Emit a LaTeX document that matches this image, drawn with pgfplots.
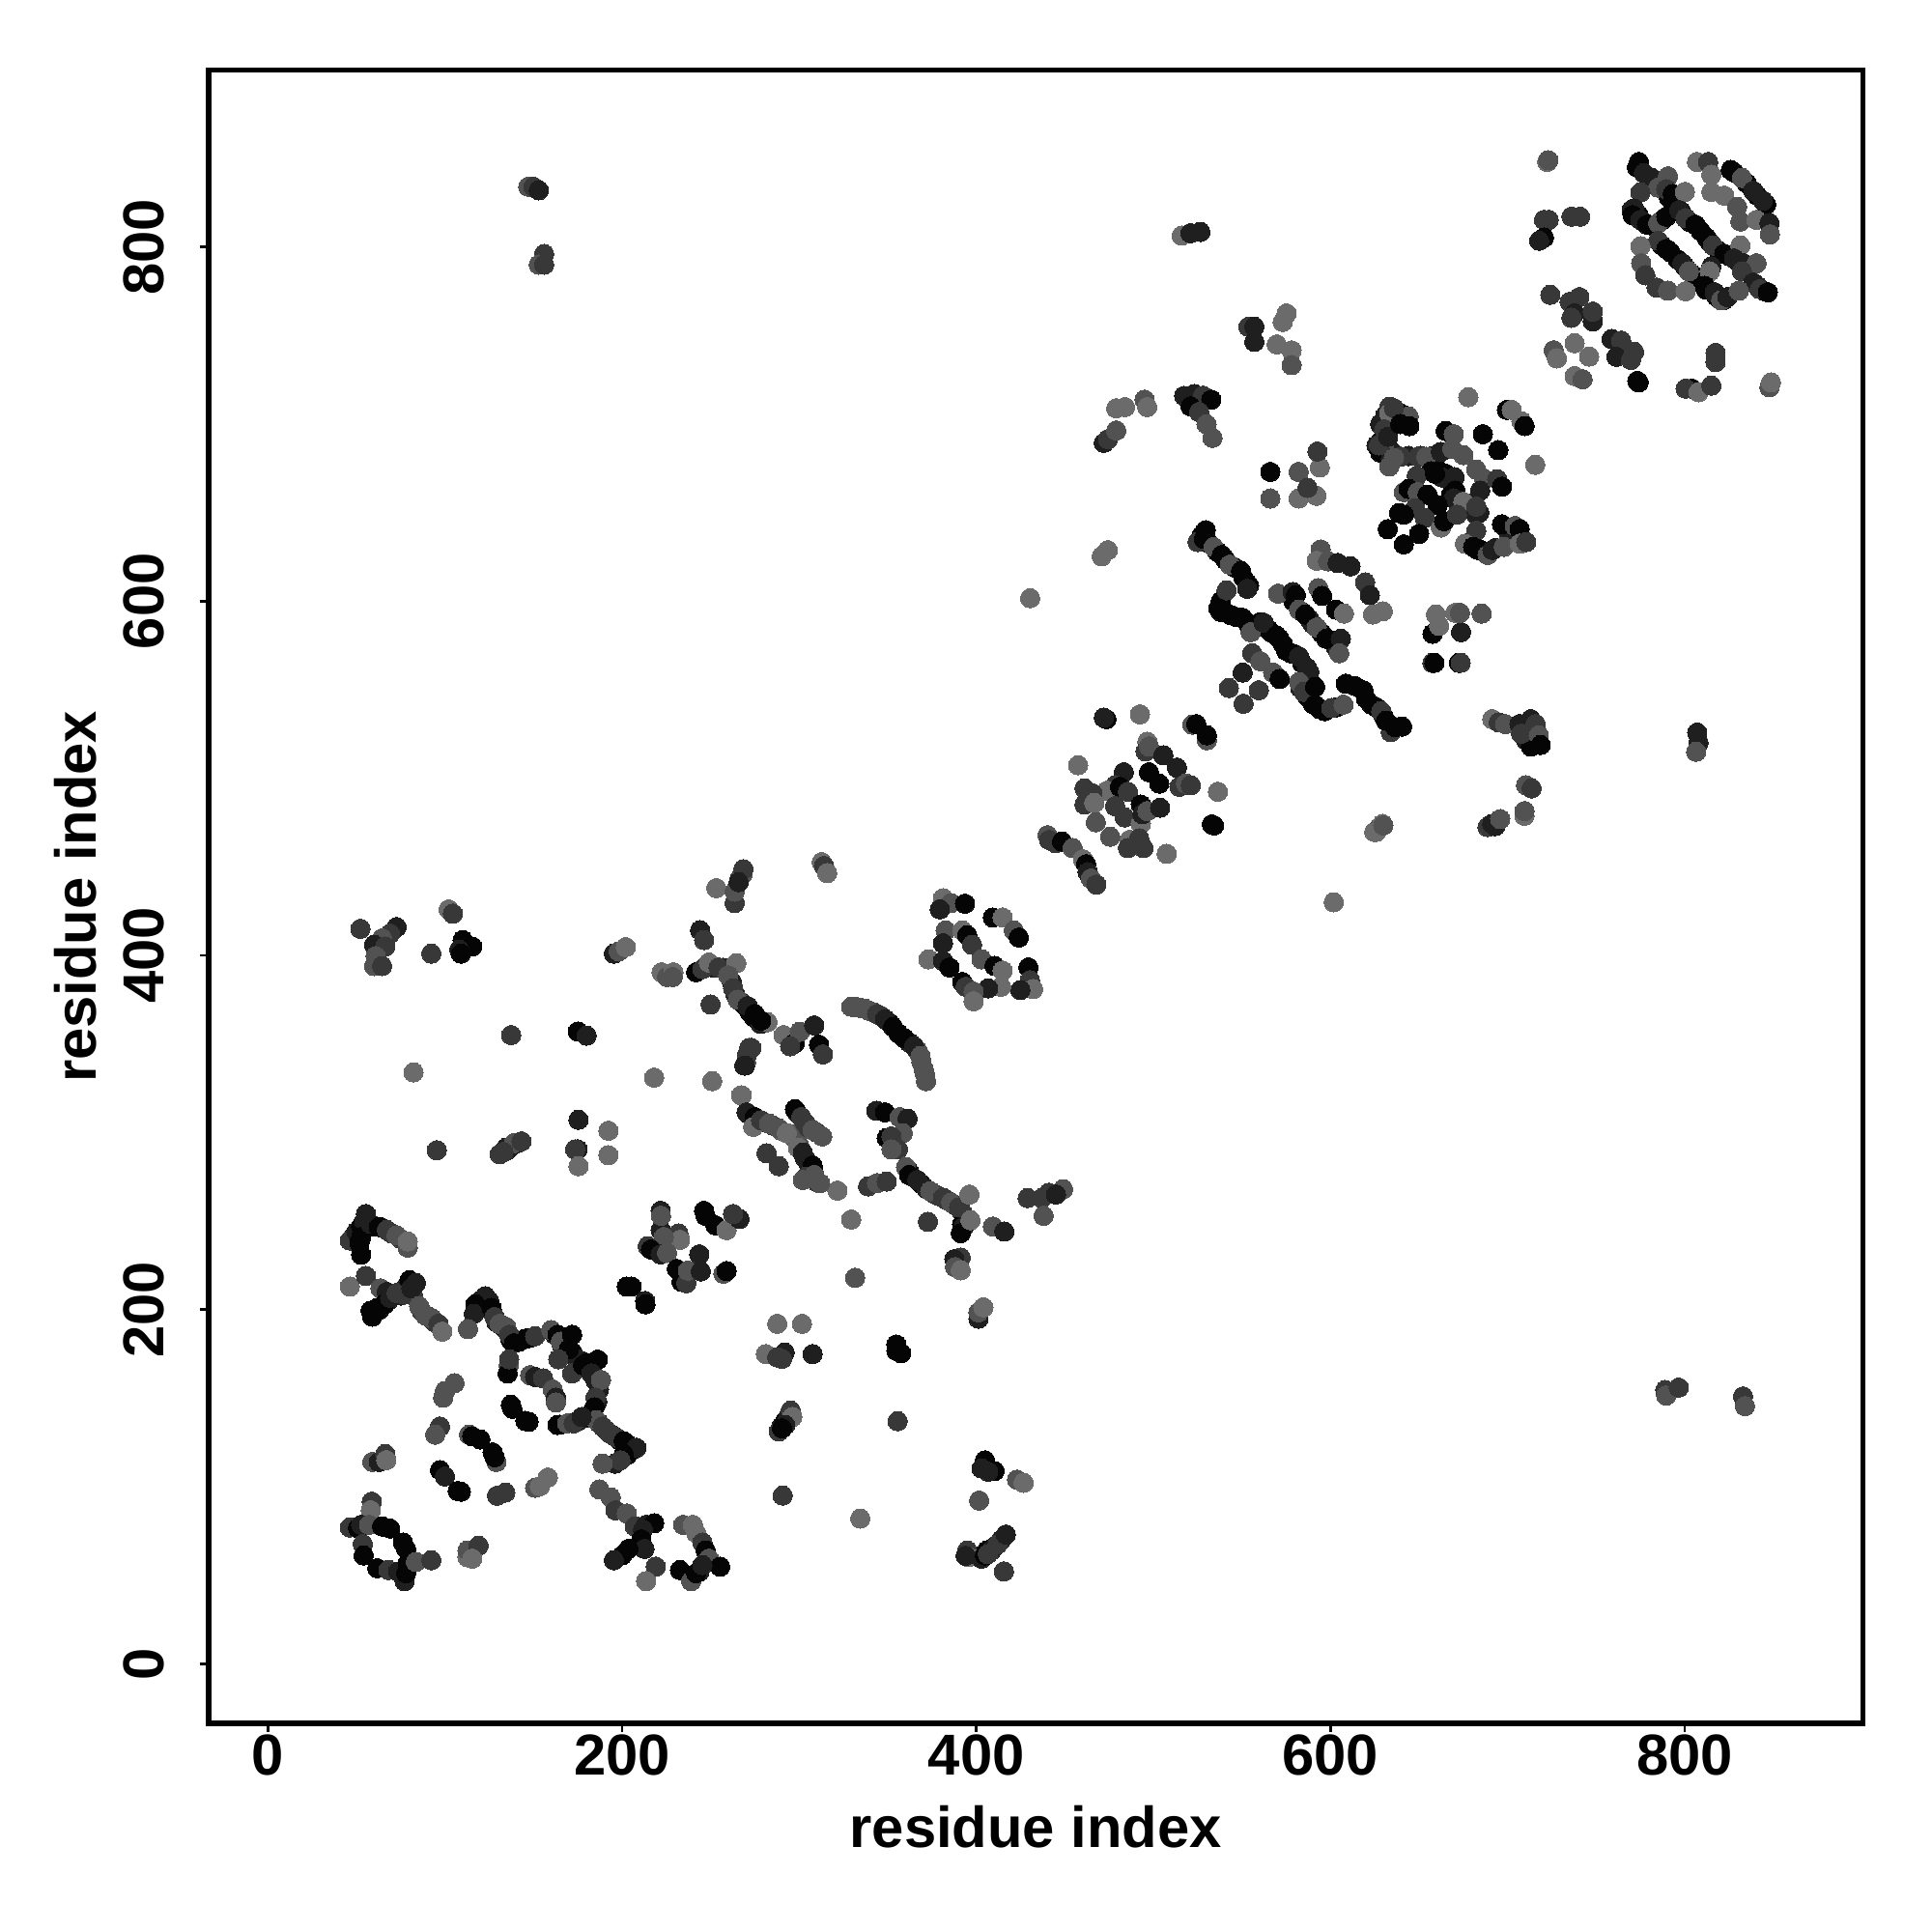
\documentclass[border=0pt]{standalone}
\usepackage{pgfplots}
\pgfplotsset{compat=1.18}
\usepackage{fontspec}
\setmainfont{Liberation Sans}
\begin{document}
\begin{tikzpicture}
\path[use as bounding box] (0,0) rectangle (20cm,20cm);
\begin{axis}[
  at={(2.16cm,2.16cm)}, anchor=south west,
  scale only axis, width=17.123cm, height=17.113cm,
  xmin=-33.4, xmax=900.5, ymin=-33.6, ymax=899.8,
  xtick={0,200,400,600,800}, ytick={0,200,400,600,800},
  xtick pos=bottom, ytick pos=left, tick align=outside,
  major tick length=0.09cm,
  tick style={line width=0.028cm, black},
  axis line style={line width=0.055cm, black},
  /pgf/number format/assume math mode=true,
  tick label style={font=\fontsize{17pt}{17pt}\selectfont\bfseries, inner sep=0pt},
  xticklabel style={anchor=north, yshift=-0.02cm},
  yticklabel style={rotate=90, anchor=south},
  yticklabel shift=0.36cm,
  label style={font=\fontsize{17pt}{17pt}\selectfont\bfseries},
  xlabel={residue index}, ylabel={residue index},
  xlabel style={at={(axis description cs:0.5,-0.0625)}, anchor=center},
  ylabel style={at={(axis description cs:-0.0805,0.5)}, anchor=center},
  colormap={greys}{gray(0cm)=(0.02); gray(4cm)=(0.42)},
  point meta min=0, point meta max=4,
]
\addplot[scatter, only marks, mark=*, mark size=2.85pt, point meta=explicit,
  mark options={line width=0pt},
  scatter/use mapped color={draw=mapped color, fill=mapped color}] coordinates {
(48,241)[1] (53,244)[1] (57,247)[1] (60,247)[0] (65,246)[1] (70,243)[2] (75,240)[2]
(60,198)[0] (63,200)[0] (66,203)[1] (68,205)[1] (71,208)[1] (75,208)[1] (78,213)[1] (82,214)[1] (78,210)[1] (82,208)[2] (87,199)[2] (91,196)[2] (94,193)[2]
(118,200)[0] (120,205)[1] (125,205)[1] (127,198)[1] (129,193)[1] (132,191)[1] (135,188)[1] (137,183)[0] (142,182)[0] (145,183.5)[0] (148,184)[1]
(160,188)[1] (162,186)[1] (166,180)[1] (168,178)[0] (172,176)[0] (175,172)[1] (180,170)[0] (183,167)[1] (185,160)[1] (187,155)[1] (186,148)[1] (183,142)[0] (182,140)[0] (187,136)[1] (191,132)[1] (195,129)[1] (199,126)[0] (203,124)[0] (206,121)[0] (203,118)[0] (200,116)[1] (196,113)[1]
(165,135)[1] (170,136)[1] (175,137)[1] (179,139)[1]
(252,393)[1] (257,393)[1] (262,385)[1] (264,378)[1] (267,374)[1] (269,372)[0] (272,368)[0] (276,364)[0] (280,362)[1]
(331,371)[3] (337,370)[3] (342,368)[3] (346,366)[2] (351,362)[0] (356,356)[0] (362,351)[1] (367,346)[3] (369,340)[3] (371,333)[3]
(362,278)[0] (364,275)[1] (369,271)[0] (372,268)[1] (377,265)[2] (379,264)[2] (383,262)[2] (388,259)[2] (392,255)[2] (393,251)[1] (392,248)[0]
(272,310)[0] (276,308)[0] (280,306)[1] (285,304)[2] (290,301)[3] (295,299)[3] (298,296)[3] (300,293)[3] (303,286)[1] (305,283)[1] (308,279)[0] (309,274)[1] (310,272)[2]
(299,311)[1] (303,306)[2] (305,303)[2] (310,300)[2]
(527,637)[0] (531,633)[0] (536,628)[0] (541,623)[0] (546,619)[0] (551,613)[0] (553,610)[0]
(538,600)[0] (538,594)[0] (544,592)[0] (547,591)[0] (553,588)[0] (557,585)[1] (560,588)[0] (565,584)[0] (567,582)[0] (573,576)[0] (575,572)[0] (580,570)[0] (584,565)[0] (588,560)[1] (583,551)[1] (587,546)[0] (590,542)[0] (594,539)[0] (603,540)[0] (614,552)[0] (620,545)[0] (626,540)[0] (630,535)[0] (634,530)[0]
(579,600)[0] (584,594)[1] (588,590)[1] (590,587)[1] (595,582)[0] (600,578)[0] (603,574)[1]
(773,845)[0] (779,840)[0] (783,836)[0] (787,833)[0] (791,828)[0] (794,825)[0] (798,820)[0] (774,818)[0] (777,814)[0] (782,812)[0] (787,815)[0] (803,814)[0] (809,809)[0] (814,803)[0] (819,798)[0] (825,795)[0] (830,792)[0] (836,788)[1] (841,778)[1] (845,775)[0] (787,801)[0] (792,797)[0] (796,793)[0] (800,789)[0] (805,784)[0] (808,780)[0] (812,776)[0] (818,772)[0] (822,770)[1]
(828,842)[0] (835,836)[0] (841,829)[0] (846,824)[0] (770,821)[1] (773,819)[0]
(628,690)[1] (630,693)[0] (632,689)[0] (635,684)[1] (628,700)[1] (631,705)[1] (636,707)[1] (642,702)[0] (644,682)[1] (651,682)[1] (658,682)[1] (660,675)[0] (665,672)[0] (670,670)[1] (668,660)[0] (672,655)[0] (678,655)[1] (684,650)[1] (678,633)[0] (683,629)[0] (687,628)[1] (693,630)[1] (700,640)[1] (703,635)[1]
(402,61)[0] (406,64)[0] (410,66)[0] (414,70)[1] (290,134)[1] (292,137)[0] (294,140)[1] (135,290)[1] (137,292)[1] (141,294)[1]
(55.4,254)[1] (52.7,231)[0] (46.3,239)[2] (50,244)[1] (52.7,247)[0] (54.5,250)[1] (52.7,241)[0] (51.8,237.6)[0] (58,248.5)[1] (62.7,246.7)[0] (67.2,245)[2] (72.7,242)[3] (79,235)[3] (79,238.5)[4]
(46.3,213)[4] (55.4,219)[2] (63.6,212)[3] (67.2,210)[1] (59,196)[0] (58,199.4)[0] (61.8,201)[0] (65.4,203)[0] (69,206.7)[1] (72.7,209.4)[2] (77,208.5)[2] (80,216.7)[0] (83.6,215)[1] (81,212)[1] (85.4,202)[3] (89,196.7)[3] (92.7,195)[3] (96.3,192)[2] (98.5,187.6)[4]
(122.7,207.6)[1] (117.2,203)[0] (116.3,197.6)[1] (113,189)[3] (126.3,201)[0] (128,195.8)[2] (130.9,192)[3] (134.5,190.3)[3] (136.3,185.8)[2] (139,181)[0] (147.2,184)[0] (150.9,185)[2] (160,188.5)[3] (163.6,185.8)[0] (165.4,182)[3] (170,177.6)[0] (171.8,185.8)[0] (164,172)[2] (171.8,164)[2] (178,168.5)[0] (186.3,171.8)[0] (182.7,164)[1] (188.1,160.3)[3] (185,150.3)[2] (184.5,144.9)[0] (180.9,139.4)[0] (185.4,137.6)[3] (189,134)[2] (192.7,130.3)[2] (197.2,127.6)[2] (200.9,125.8)[0] (204.5,122)[0] (208.1,122)[1] (200.9,118.5)[0] (199,114.9)[2] (189,113)[3] (163.6,134.9)[0] (169,135.8)[3] (172.7,135.8)[2] (177.2,139.4)[1]
(136,168.5)[3] (135.4,164)[0] (136.3,172)[2] (148.1,163)[3] (150.9,162)[1] (155.4,161.2)[2] (160.9,154.9)[3] (162.7,150.3)[1] (162.7,147.6)[3]
(137.2,146.3)[0] (138.1,144)[0] (145.4,137.2)[0] (147.2,136.7)[0]
(105.4,158.5)[3] (100,154)[3] (99,150.3)[3] (97.2,134)[2] (94.5,129.4)[3]
(113.6,129.4)[3] (115.4,128.5)[0] (120,126.7)[0] (126.9,119.4)[0] (129,114)[3] (128.1,116.7)[0]
(97.2,109.4)[0] (100,105.8)[1] (107.2,97.6)[0] (109,97.2)[0]
(129.4,94.9)[2] (134.1,96.7)[2] (150.9,99.4)[3] (153.6,100.3)[4] (158.1,105.2)[4]
(59,114)[3] (62.7,114)[1] (66.3,118.5)[2] (66.9,115)[4]
(58.7,91.6)[2] (58.1,86.7)[4] (46.3,77)[2] (50.9,76.7)[0] (52.7,78.5)[1] (57.2,78.5)[3] (64.5,77.6)[0] (69,76.4)[0] (53.6,67.6)[2] (54.1,61.2)[0] (76.3,68.5)[0] (78.1,64.9)[0] (61.8,54)[0] (68.1,53)[2] (73.6,52.1)[1] (77.2,46.7)[1] (78.1,51.2)[0] (79,56.7)[0] (83.6,57.6)[3] (92.3,58.5)[2]
(112.7,60.3)[4] (112.7,64)[3] (119,66.7)[2] (115.4,59.4)[4]
(187.2,98.5)[3] (193.6,94)[3] (196.3,86.7)[2] (202.7,84.9)[3] (207.2,77.6)[2] (213.6,78.5)[1] (218.1,79.4)[0] (211.8,75.8)[1] (210.9,70.3)[0] (212.7,64.9)[1] (203.6,64.9)[0] (200,61.2)[0] (195.4,58.5)[1] (219,54.9)[2] (213.6,46.7)[4]
(234.5,78.5)[3] (240,78.5)[4] (241.8,74)[4] (245.4,68.5)[2] (247.2,64)[0] (249,59.4)[3] (255.4,54.9)[0] (243.6,52)[1] (232.7,53)[0] (239,46.7)[3] (241.8,51.2)[0] (245.4,55.8)[1]
(221.8,244.9)[1] (231.8,243)[2] (232.7,239.4)[4] (223.6,241)[3] (214.5,235.8)[2] (216.3,234)[0] (221.8,231.2)[1] (225.4,232)[3] (230.9,223)[0] (233.6,215.8)[0] (236.3,214.9)[2] (237.2,222)[3] (243.6,231.2)[1] (244.5,221.6)[1] (257.2,220.3)[3] (259,221.8)[0]
(205.4,213)[0] (202.7,213)[0] (213,204.9)[1] (213.2,203)[0]
(221.8,255.8)[1] (222,253)[3] (247.2,253)[0] (252.7,247.6)[0] (259,244.9)[4] (266.3,251.2)[1] (262.7,254)[2] (246.3,255.8)[0]
(52.3,415)[2] (72.7,416)[1] (69,412.3)[2] (64.5,409.6)[3] (60,406)[1] (66.3,405)[2] (60.9,399.6)[3] (60,394)[3] (64.5,394)[2]
(102.1,426)[4] (104.5,423.6)[2] (92.3,401)[2] (110,408.7)[0] (111.8,406)[0] (115.4,405)[0] (108.1,403.2)[1] (109,401)[0]
(195.4,401)[1] (198.1,402.3)[3] (202.1,404.7)[4]
(222.3,390.5)[4] (225.4,387.8)[3] (229,390.5)[4] (228.6,387.8)[3]
(244.1,414.2)[1] (246.3,408.7)[2] (241.8,390.5)[0] (245.4,392.3)[2] (249,396)[4] (254.5,393.2)[2] (264.5,395.6)[4] (260,388.7)[3] (262.7,381.4)[2] (265.4,375)[3] (270.9,371.4)[1] (274.5,365)[0] (278.1,361.4)[1] (250,372.3)[2]
(253.2,438)[4] (263.6,429.6)[2] (263.6,436)[3] (266.3,443.2)[2] (268.1,446)[3] (268.5,448.7)[2] (265.8,441.4)[1]
(137.4,355)[2] (175,357)[0] (180,354.7)[1] (82.3,334)[4] (218.1,331)[4] (250.9,329)[4] (267.2,321)[4]
(271.8,347.8)[2] (270,339.6)[3] (269,337.8)[1] (270.6,344)[2]
(95.4,290)[2] (130.9,287.8)[2] (134.5,291.4)[1] (139,294)[3] (143.2,295)[2] (133,289)[2]
(175.4,307.2)[1] (192.3,301)[4] (174.9,290.5)[1] (173.5,290.5)[2] (192.3,287.2)[4] (175.4,281)[4]
(312.7,452.7)[4] (314,450.5)[2] (315.8,446.5)[4]
(282.1,362.3)[4] (278.5,363.2)[0] (274.9,366.9)[0]
(273,347.8)[2] (269.4,337.8)[1]
(291.2,355)[4] (297.6,350.5)[0] (300.3,356.9)[3] (308.5,360.5)[1] (311.2,349.6)[0] (313.4,344.1)[2] (294.9,348.7)[2]
(329.4,371)[3] (334,370.5)[3] (339.4,368.7)[3] (344,366.9)[2] (348.5,364)[1] (353,359.6)[0] (359.4,353.2)[0] (364.9,348.7)[1] (368.5,343.2)[3] (370.3,336)[3] (371.6,329)[3]
(343.6,312.3)[1] (348.5,311.4)[0] (356.7,308.7)[3] (361.2,307.8)[1] (358.5,299.6)[3] (349.4,296.9)[0] (352.1,297.8)[2] (355.8,290.5)[2] (352.1,290.5)[3]
(360.3,280.5)[3] (362.1,276)[0] (366.7,273.2)[1] (374,266.9)[3] (381.2,263.2)[2] (385.8,260.5)[3] (390.3,257.8)[2] (396.1,265)[4] (393,246.9)[1] (391.2,243.2)[0] (396.7,250.5)[4] (409.4,246.9)[3] (415.8,244.1)[1]
(338.9,269.6)[2] (344,271.4)[3] (349.4,272.3)[2] (329.4,250.9)[4] (372.7,249.6)[2] (321.6,267.2)[4]
(267.6,321)[4] (270.3,311.4)[1] (274.9,308.7)[0] (274,303.2)[4] (278.5,306.9)[2] (283,305)[3] (288.5,302.3)[3] (293,299.6)[4] (297.6,313.2)[0] (301.2,308.7)[2] (307.6,301.4)[3] (313,297.8)[3] (299.4,291.4)[4] (302.1,288.7)[1] (307.6,281.4)[0] (304,275)[2] (308.5,276)[3] (311.8,271.4)[3] (281.6,288.3)[2] (288.5,281)[2] (302.1,273.2)[3]
(381.2,432.3)[4] (385.8,429.6)[3] (393.6,429.2)[0] (379.4,426)[1] (382.7,414.1)[3] (381.2,406.9)[1] (373,397.8)[4] (381.2,396.9)[1] (384.9,393.2)[0] (392.1,414.1)[4] (394.9,411.4)[0] (397.6,406)[2] (403,397.8)[3] (410.3,394.1)[0] (414.9,391.4)[4] (409.4,421.4)[0] (414.9,421.4)[4] (421.2,414.1)[3] (424,410.1)[0] (429.4,393.2)[0] (430.3,386)[2] (432.1,381)[4] (424.9,380.5)[1] (414,382.3)[4] (406.7,381.4)[1] (392.1,385)[0] (394,382.3)[2] (398.5,379.6)[3] (398.5,374.1)[4]
(429,263)[2] (437,263)[2] (441,266)[2] (449,268)[3] (438,253)[3] (445,265)[1]
(391.2,229.4)[2] (387.6,228.5)[1] (388,224)[3] (391.2,222.2)[4] (401.2,194.9)[1] (401.2,198.5)[3] (404,201.3)[4]
(331.6,218)[3] (287.6,192)[4] (301.6,192)[4] (281.2,174.9)[4] (291.8,175.8)[1] (290.3,172.2)[2] (287.6,173)[2] (307.6,174.9)[1] (354.9,180.3)[0] (354.9,176.7)[0] (357.6,175.4)[0]
(295.2,143)[2] (296.1,139.4)[4] (292.1,134.9)[1] (288.5,131.2)[2] (290.3,133)[0] (355.6,137)[2] (290.7,95)[2] (334.5,82)[4]
(404.9,114.9)[0] (403,110.3)[1] (410.3,108.9)[0] (406.7,108.5)[1] (423,104)[3] (426.7,102.2)[4] (401.6,92.2)[3]
(394.9,64)[2] (395.8,60.3)[4] (394,61)[1] (403,59.4)[1] (404.9,61.2)[0] (408.5,64)[1] (406.5,62)[2] (412.1,67.6)[2] (416.7,73)[1] (415.6,52.2)[2]
(473.5,533.4)[0] (472,534.3)[1] (492.4,536.1)[4] (522,530.3)[3] (524.2,530.6)[0] (530.2,521.5)[3] (530.2,524.3)[0]
(457.5,507.4)[4] (496.6,520.6)[4] (495.6,515.2)[2] (497.5,518)[3] (505.6,513)[1] (513.3,506)[1] (497.5,503.4)[0] (503.3,497)[0] (514.7,495.2)[2] (518.4,497)[3] (521.1,496.1)[2] (536.4,492.4)[4] (534.2,473.4)[0] (533,474)[0]
(483.3,503.4)[1] (478.4,496.1)[2] (473.8,493)[4] (481.1,495.2)[0] (485.6,492.4)[2] (461.1,494.3)[2] (465.6,491.5)[2] (461.1,485.2)[2] (466.6,486.1)[4] (478.4,484.3)[2] (483.8,477.9)[2] (492.9,474.3)[4] (492.9,485.2)[0] (493.8,479.7)[1] (496.6,481.5)[3] (503.8,483.4)[1] (467.5,475.2)[3] (475.6,467)[3] (486.6,465.2)[4] (485.6,460.6)[2] (492,466.1)[2] (494.4,460.6)[2] (507.5,457.4)[4]
(440.2,467.9)[3] (441.1,465.2)[2] (444.7,463.4)[2] (448.4,464.3)[0] (454.4,460.6)[3] (460.2,454.3)[4] (462,451.5)[0] (462.9,447)[1] (464.7,443.4)[3] (467.8,440)[2] (601.8,430)[4]
(624.7,469.7)[4] (627.5,472.4)[3] (629.3,474.2)[4]
(529.5,640.1)[0] (524.9,633.4)[2] (528.5,635.2)[0] (534,630.6)[3] (538.6,626.1)[0] (543.1,620.6)[3] (549.5,617)[0] (554,608.8)[0] (553,607)[1]
(541.3,606.1)[2] (536.7,596.1)[0] (541.3,593.4)[0] (550.4,590.6)[0] (554.9,582.5)[3] (562.2,587.9)[1] (569.5,580.6)[0] (571,579)[0] (577.6,570.6)[0] (582.2,568.8)[1] (586.7,562.5)[1] (582.2,554.3)[3] (584.9,548.8)[2] (591.3,551.6)[0] (591.3,541.6)[0] (596.7,537.9)[0] (600.4,539.7)[2] (607.3,541.6)[3] (608.6,553.4)[0] (618.6,549.7)[0] (623.1,541.6)[0] (628.6,537.9)[2] (634,526.1)[2] (631.3,532.5)[0] (636.7,528.8)[0] (640.4,529.2)[0]
(570.4,604.3)[3] (578.6,605.2)[1] (580.4,603.4)[0] (582.2,595.2)[3] (585.8,592.5)[0] (592.2,585.2)[3] (597.6,578.8)[0] (605.8,578.8)[1] (604.9,570.6)[3]
(594.4,629.2)[3] (592.2,622.8)[4] (598.6,622.5)[3] (604,621.6)[1] (611.3,619.7)[1] (619.5,610.6)[2] (622.2,603.4)[1] (624,592.5)[4] (629.5,594.3)[4]
(593.1,607.4)[3] (595.3,603)[0] (603.1,595.2)[0] (607.6,593)[4]
(555.8,570.6)[2] (560.4,566.1)[3] (567.6,559.7)[3] (571.3,556.1)[0] (550.4,559.7)[1] (542.6,551)[2] (559.5,549.7)[2] (550.9,542.1)[2]
(657.6,581.6)[0] (659.5,592.5)[4] (661.3,586.1)[4] (670.4,593.4)[4] (673.7,582.5)[1] (673.1,593.4)[3] (685.3,593)[3] (657.5,565.2)[2] (658.6,565.2)[0] (672.5,565.2)[0] (673.5,565.2)[2]
(691.3,533.4)[4] (695,531.6)[2] (698.6,530.6)[3] (706.7,530.6)[1] (713.1,533.4)[1] (715.8,530.6)[2] (710.4,521.5)[1] (713.1,517.9)[0] (707.6,525.2)[2] (717.6,524.3)[3] (718.6,518.8)[0]
(710.4,496.1)[3] (713.5,494.3)[2] (709.5,478.8)[4] (709.5,481.5)[3] (688.6,472.5)[2] (691.3,474.3)[1] (693,473)[1] (695.8,477)[3] (625.8,469.7)[4] (629.8,473.4)[3]
(633.2,709.8)[2] (633.2,706.1)[4] (639.6,706.1)[0] (644.1,704.3)[3] (644.5,698.9)[0] (630.5,697)[2] (625.9,688)[1] (630.5,686.1)[3] (628,684)[0] (634.1,680.7)[1] (633.2,676.1)[3] (639.6,681.6)[2] (649.6,681.6)[2] (654.1,681.6)[3] (662.3,684.3)[1] (665,696.1)[0] (669.6,694.3)[3] (668.7,686.1)[3] (675,682.5)[3] (686,694.3)[0] (694.7,685.3)[0] (682.3,674.3)[3] (686.8,668.9)[3] (694.1,668.9)[2] (696.8,664.7)[0] (684.5,662.5)[1]
(656.8,673.4)[0] (648.7,670.7)[2] (663.2,669.8)[1] (659,672)[0] (641.4,661.6)[3] (644.1,663.4)[0] (649.2,661.6)[3] (654.7,660.1)[0] (670.5,662.5)[0] (669.6,658)[1] (675,656.1)[4] (682.3,648.9)[1] (682.3,653.4)[2] (660.5,654.3)[0] (647.8,652.5)[2] (638.7,649.8)[0] (641.4,648.9)[0] (653.2,647)[2] (662.3,641.6)[4] (664.1,645.2)[0] (671.4,648.9)[2] (632.3,640.7)[0] (650,638)[0] (641.4,632.1)[0]
(682.3,639.8)[2] (675.9,632.5)[4] (680.5,630.7)[0] (685,628.9)[0] (688.7,626.1)[3] (691.4,628.9)[1] (697.8,630.7)[3] (696.8,643.4)[0] (704.1,642.5)[3] (706.8,640.7)[0] (706.8,632.5)[4] (710.5,633.4)[2]
(677.8,715.2)[4] (699.6,708)[0] (702.3,708)[4] (707.8,701.6)[4] (709.6,698.9)[0] (715.6,677)[4]
(517.4,715.9)[1] (523,717)[1] (528,716)[2] (532.7,713.8)[0] (521,710)[0] (525.8,706.8)[2] (530,699.9)[3] (533.4,692.2)[3]
(472,689.4)[1] (474.4,691.5)[2] (479,696.4)[3] (479,708.9)[4] (484,709.6)[4] (495,713.8)[3] (496.5,709.6)[4]
(470.8,625.3)[4] (474.2,628.8)[4] (430.4,601.7)[4]
(516,806.4)[4] (520.9,807.8)[1] (526.5,808.5)[1]
(553.6,754.9)[2] (557,755)[1] (557,746.5)[1] (569.6,745)[4] (573,757.7)[4] (575.2,762.5)[4] (578,741.6)[4] (578,733.3)[3]
(566,673)[0] (566,658)[3] (582,673)[3] (594,675.5)[4] (592.6,684.5)[2] (582,658)[4] (592,659.5)[4] (587,664)[2]
(627.4,688)[2] (632.5,692.9)[1] (635.8,709)[2] (639.3,700)[0] (635.8,681)[3]
(722.3,848)[4] (723,849)[3] (723.2,815.3)[2] (720.5,815.3)[2] (720.5,805.3)[0] (717.8,803.5)[1] (736,817.1)[2] (740.9,817.1)[2]
(724.1,773)[2] (740.5,771.7)[2] (735,769)[2] (737.8,762.6)[1] (736,760)[2] (748.1,758)[1] (748.1,763.5)[2] (726,741.7)[3] (727.8,737.1)[4] (746,738.1)[0] (737.8,745.7)[4] (746,738.1)[4] (758.7,748)[1] (764.1,747.1)[2] (761.4,738)[1] (771.4,740.8)[2] (769.6,736.2)[2] (737.8,727.1)[4] (742.3,725.3)[3] (773.2,724.4)[0] (774,723.5)[0]
(817.4,740.2)[2] (817.4,735)[2] (804.1,720)[0] (800.5,720)[2] (807.8,718)[4] (815,721.7)[2] (847.8,720.8)[3] (848.7,723.5)[4]
(774.1,848)[0] (776.9,841.7)[1] (781.4,839)[1] (785,833.5)[3] (790.5,839.9)[3] (789.6,832.6)[2] (793.2,829.9)[0] (800.1,831.1)[4] (775,830.8)[2]
(771.4,821.7)[1] (770.5,818)[0] (775,815.3)[1] (778.7,812.6)[0] (785,813.5)[3] (789.6,817.1)[0] (796.9,820.8)[1] (800.5,816.2)[2] (806,812.6)[0] (812.3,805.3)[0] (815.9,800.8)[2] (822.3,796.2)[0] (831.4,800.8)[4] (827.8,793.5)[1] (833.2,790.8)[1] (840.5,790.8)[3] (832.3,786.2)[2] (838.7,779.9)[1] (842.3,776.2)[2] (846.9,774.4)[0]
(785,803.5)[2] (789.6,798.9)[0] (775,800.4)[4] (775.4,790.8)[3] (777.8,784)[2] (784.1,777.1)[2] (790.5,775.3)[3] (800.5,775)[4] (798.7,790.8)[1] (802.3,786.2)[3] (815,788.9)[1] (814.1,786.2)[4] (811.4,778)[0] (816.9,774.4)[1] (820.5,769.9)[3] (824.1,771.7)[1] (830.5,775.3)[3]
(806.9,848)[4] (813.2,848)[2] (815,840.8)[4] (826,843.5)[0] (832.3,839)[3] (838.7,831.7)[1] (844.1,826.2)[1] (815,831.1)[4] (822.3,829)[4] (829.6,822.6)[3] (831.4,814.4)[3] (840.5,815.3)[4] (847.8,813.5)[1] (848.1,807.1)[3]
(147,834)[3] (150,834)[2] (153,832)[1] (156,796)[2] (153,790)[3] (156,790)[2]
(789,154.6)[2] (789.5,151.5)[3] (796.6,156)[2] (832.9,151)[2] (834,145.5)[3]
(807,525.8)[1] (807.8,520)[1] (806.4,515)[3]
};
\end{axis}
\end{tikzpicture}
\end{document}
